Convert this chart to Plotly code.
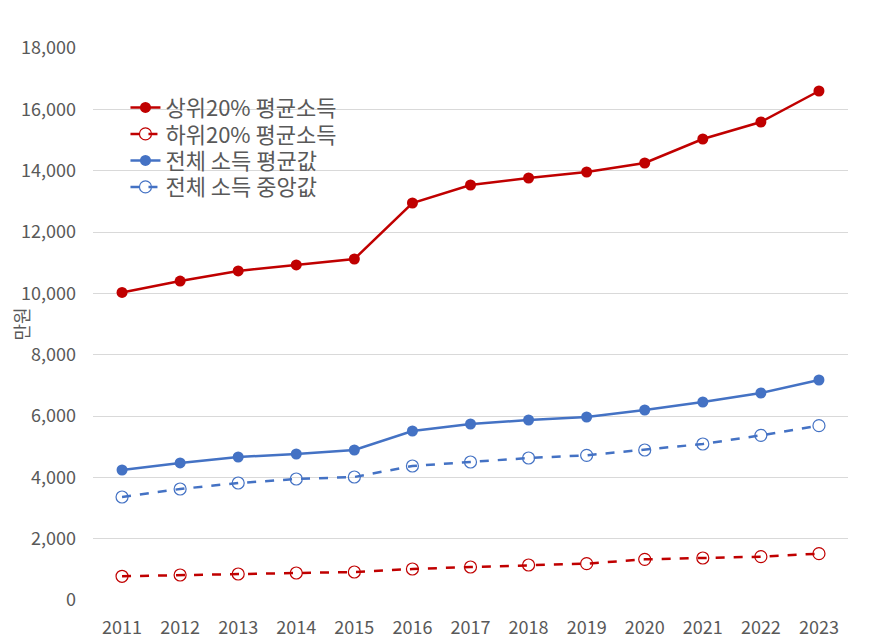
import plotly.graph_objects as go

years = ["2011", "2012", "2013", "2014", "2015", "2016", "2017", "2018",
         "2019", "2020", "2021", "2022", "2023"]
top20_mean = [10030, 10400, 10730, 10925, 11120, 12946, 13533, 13761,
              13957, 14250, 15033, 15587, 16598]
bottom20_mean = [773, 815, 848, 880, 913, 1011, 1076, 1141,
                 1185, 1326, 1370, 1413, 1511]
all_mean = [4239, 4468, 4663, 4761, 4891, 5511, 5739, 5870,
            5967, 6196, 6457, 6750, 7174]
all_median = [3359, 3620, 3815, 3946, 4011, 4370, 4500, 4630,
              4718, 4891, 5087, 5370, 5684]

series_names = ["상위20% 평균소득", "하위20% 평균소득", "전체 소득 평균값", "전체 소득 중앙값"]
y_ticks = [0, 2000, 4000, 6000, 8000, 10000, 12000, 14000, 16000, 18000]

RED = "#C00000"
BLUE = "#4472C4"
GRAY = "#595959"
FONT = "Noto Sans CJK KR"

fig = go.Figure()
fig.add_trace(go.Scatter(x=years, y=top20_mean, name=series_names[0], mode="lines+markers",
                         line=dict(color=RED, width=2.5), legend="legend",
                         marker=dict(symbol="circle", size=11, color=RED)))
fig.add_trace(go.Scatter(x=years, y=bottom20_mean, name=series_names[1], mode="lines+markers",
                         line=dict(color=RED, width=2.5, dash="dash"), legend="legend2",
                         marker=dict(symbol="circle-open", size=12, color=RED, line=dict(width=1.2))))
fig.add_trace(go.Scatter(x=years, y=all_mean, name=series_names[2], mode="lines+markers",
                         line=dict(color=BLUE, width=2.5), legend="legend3",
                         marker=dict(symbol="circle", size=11, color=BLUE)))
fig.add_trace(go.Scatter(x=years, y=all_median, name=series_names[3], mode="lines+markers",
                         line=dict(color=BLUE, width=2.5, dash="dash"), legend="legend4",
                         marker=dict(symbol="circle-open", size=12, color=BLUE, line=dict(width=1.2))))

def leg(yc):
    return dict(x=0.043, y=yc, xanchor="left", yanchor="middle",
                bgcolor="rgba(255,255,255,0)", font=dict(size=22, color=GRAY),
                itemwidth=30)

fig.update_layout(
    width=881, height=640,
    margin=dict(l=85, r=41, t=40, b=48),
    paper_bgcolor="white", plot_bgcolor="white",
    font=dict(family=FONT, color=GRAY, size=18),
    showlegend=True,
    legend=leg(0.892), legend2=leg(0.844), legend3=leg(0.796), legend4=leg(0.748),
    xaxis=dict(type="category", showgrid=False, showline=False, zeroline=False,
               ticks="", tickfont=dict(size=18, color=GRAY), range=[-0.5, 12.5],
               ticklabelstandoff=15, automargin=False),
    yaxis=dict(range=[0, 18000], tickvals=y_ticks, tickformat=",", showgrid=True,
               gridcolor="#D9D9D9", gridwidth=1, zeroline=False, showline=False,
               ticks="", tickfont=dict(size=18, color=GRAY), ticklabelstandoff=16,
               automargin=False,
               title=dict(text="만원", font=dict(size=18, color=GRAY), standoff=4)),
)

fig.write_html("out.html")
